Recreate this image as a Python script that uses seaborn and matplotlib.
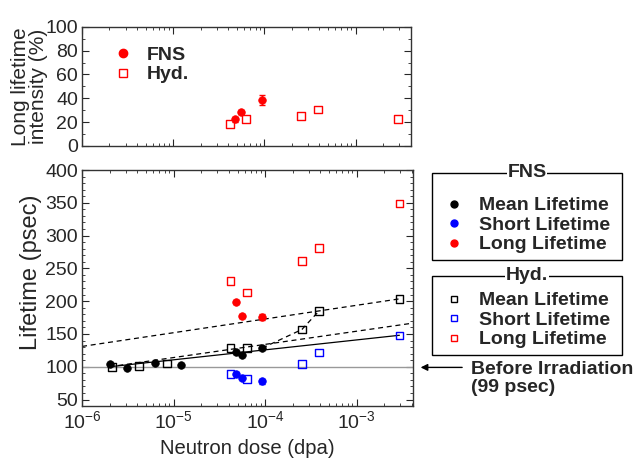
import numpy as np
import pandas as pd
import matplotlib
matplotlib.use("Agg")
import matplotlib.pyplot as plt
import seaborn as sns
from matplotlib import ticker
from matplotlib.lines import Line2D

# ---- data ----
# FNS (filled circles)
fns_dose = [2.0e-6, 3.06e-6, 6.2e-6, 1.22e-5, 4.8e-5, 5.6e-5, 9.3e-5]
fns_mean = [104, 98, 106, 102.6, 121.8, 118, 128.5]
fns_dose_sl = [4.8e-5, 5.6e-5, 9.3e-5]
fns_short = [89.3, 82.8, 78]
fns_long = [199, 177, 175.7]
fns_long_err = [3, 3, 5]
fns_short_err = [2, 2, 4]
fns_int = [22.4, 28.6, 38.7]
fns_int_err = [2, 2, 4]

# Hyd. (open squares)
hyd_dose_mean = [2.14e-6, 4.2e-6, 8.5e-6, 4.2e-5, 6.3e-5, 2.52e-4, 3.86e-4, 2.93e-3]
hyd_mean = [99.5, 101.5, 105, 128.5, 128.5, 156.8, 184.8, 203.5]
hyd_dose_sl = [4.2e-5, 6.3e-5, 2.52e-4, 3.86e-4, 2.93e-3]
hyd_short = [89, 81.7, 104, 121.8, 147.7]
hyd_long = [231, 213, 261.4, 281, 349]
hyd_int = [18.2, 22.4, 25.2, 30.6, 22.4]

# guide lines
solid_x = [2.0e-6, 2.93e-3]
solid_y = [100, 148]
dash_low_x = [2.0e-6, 4.1e-3]
dash_low_y = [100, 166.5]
dash_up_x = [1.0e-6, 2.93e-3]
dash_up_y = [131, 203.5]
dash_mid_x = [9.3e-5, 2.52e-4, 3.86e-4]
dash_mid_y = [128.5, 156.8, 184.8]
before_irr = 99

RED = "#ff0000"
BLUE = "#0000ff"
BLACK = "#000000"
FS = 14

sns.set_theme(style="ticks")
plt.rcParams['font.family'] = ['Liberation Sans', 'DejaVu Sans']
plt.rcParams['mathtext.fontset'] = 'custom'
plt.rcParams['mathtext.rm'] = 'Liberation Sans'
plt.rcParams['mathtext.it'] = 'Liberation Sans'
plt.rcParams['axes.unicode_minus'] = False

fig = plt.figure(figsize=(6.36, 4.62), dpi=100)
ax_top = fig.add_axes([0.129, 0.684, 0.518, 0.258])
ax = fig.add_axes([0.129, 0.121, 0.520, 0.511])

CIRC = 30
SQ = 30


def filled(ax, x, y, color):
    df = pd.DataFrame({"x": x, "y": y})
    sns.scatterplot(ax=ax, data=df, x="x", y="y", color=color, marker="o",
                    s=CIRC, edgecolor=color, linewidth=0.5, zorder=4)


def hollow(ax, x, y, color):
    df = pd.DataFrame({"x": x, "y": y})
    sns.scatterplot(ax=ax, data=df, x="x", y="y", color=color, marker="s",
                    s=SQ, zorder=5)
    pts = ax.collections[-1]
    pts.set_facecolor("none")
    pts.set_edgecolor(color)
    pts.set_linewidth(1.0)


# ---- bottom panel ----
ax.axhline(before_irr, color="#999999", lw=1.0, zorder=1)
ax.plot(solid_x, solid_y, color=BLACK, lw=0.9, zorder=2)
ax.plot(dash_low_x, dash_low_y, color=BLACK, lw=0.9, ls=(0, (4, 3)), zorder=2)
ax.plot(dash_up_x, dash_up_y, color=BLACK, lw=0.9, ls=(0, (4, 3)), zorder=2)
ax.plot(dash_mid_x, dash_mid_y, color=BLACK, lw=0.9, ls=(0, (4, 3)), zorder=2)

ax.errorbar(fns_dose_sl, fns_long, yerr=fns_long_err, fmt="none", ecolor=RED, elinewidth=1, capsize=2, zorder=3)
ax.errorbar(fns_dose_sl, fns_short, yerr=fns_short_err, fmt="none", ecolor=BLUE, elinewidth=1, capsize=2, zorder=3)

filled(ax, fns_dose, fns_mean, BLACK)
filled(ax, fns_dose_sl, fns_short, BLUE)
filled(ax, fns_dose_sl, fns_long, RED)
hollow(ax, hyd_dose_mean, hyd_mean, BLACK)
hollow(ax, hyd_dose_sl, hyd_short, BLUE)
hollow(ax, hyd_dose_sl, hyd_long, RED)

ax.set_xscale("log")
ax.set_xlim(1e-6, 4.1e-3)
ax.set_ylim(40, 400)
ax.yaxis.set_major_locator(ticker.MultipleLocator(50))
ax.yaxis.set_minor_locator(ticker.MultipleLocator(10))
ax.set_xlabel("Neutron dose (dpa)", fontsize=14.6, labelpad=5)
ax.set_ylabel("Lifetime (psec)", fontsize=17)
ax.yaxis.set_label_coords(-0.121, 0.568)

# ---- top panel ----
ax_top.errorbar(fns_dose_sl, fns_int, yerr=fns_int_err, fmt="none", ecolor=RED, elinewidth=1, capsize=2, zorder=3)
filled(ax_top, fns_dose_sl, fns_int, RED)
hollow(ax_top, hyd_dose_sl, hyd_int, RED)
ax_top.set_xscale("log")
ax_top.set_xlim(1e-6, 4.1e-3)
ax_top.set_ylim(0, 100)
ax_top.yaxis.set_major_locator(ticker.MultipleLocator(20))
ax_top.yaxis.set_minor_locator(ticker.MultipleLocator(10))
ax_top.tick_params(axis="x", which="both", labelbottom=False)
ax_top.set_xlabel("")
ax_top.set_ylabel("Long lifetime\nintensity (%)", fontsize=15, linespacing=0.95)
ax_top.yaxis.set_label_coords(-0.104, 0.5)

for a in (ax, ax_top):
    a.tick_params(which="both", direction="in", top=True, right=True, labelsize=FS, pad=3)
    a.tick_params(which="major", length=5, width=0.8)
    a.tick_params(which="minor", length=2.5, width=0.6)
    a.xaxis.set_minor_locator(ticker.LogLocator(base=10, subs=np.arange(2, 10), numticks=20))
    for s in a.spines.values():
        s.set_linewidth(1.0)
        s.set_color("#333333")

ax.xaxis.set_major_locator(ticker.LogLocator(base=10, numticks=10))
ax.xaxis.set_minor_formatter(ticker.NullFormatter())
ax.xaxis.set_major_formatter(ticker.FuncFormatter(
    lambda v, p: r"$\mathregular{10^{%d}}$" % int(round(np.log10(v)))))

# top legend
h_fns = Line2D([], [], ls="none", marker="o", markersize=6, color=RED)
h_hyd = Line2D([], [], ls="none", marker="s", markersize=5.5, markerfacecolor="none",
               markeredgecolor=RED, markeredgewidth=1)
ax_top.legend([h_fns, h_hyd], ["FNS", "Hyd."], loc="upper left", bbox_to_anchor=(0.058, 0.905),
              frameon=False, prop={"weight": "bold", "size": FS}, handletextpad=0.55,
              labelspacing=0.12, borderaxespad=0, handlelength=1.4)

# right legends (boxed, title on the frame)
lab = ["Mean Lifetime", "Short Lifetime", "Long Lifetime"]
cols = [BLACK, BLUE, RED]
fns_h = [Line2D([], [], ls="none", marker="o", markersize=5, color=c) for c in cols]
hyd_h = [Line2D([], [], ls="none", marker="s", markersize=5, markerfacecolor="none",
                markeredgecolor=c, markeredgewidth=1) for c in cols]


def boxed_legend(handles, title, x0, y0, w, gap):
    leg = fig.legend(handles, lab, loc="upper left", bbox_to_anchor=(x0, y0, w, 0),
                     mode="expand", title=" ", title_fontsize=gap,
                     prop={"weight": "bold", "size": FS}, fancybox=False,
                     edgecolor=BLACK, framealpha=1, handletextpad=0.45,
                     labelspacing=0.1, borderpad=0.36, handlelength=1.6,
                     borderaxespad=0)
    leg.get_frame().set_linewidth(1.0)
    fig.text(x0 + w / 2, y0, title, ha="center", va="center", fontsize=FS,
             fontweight="bold", zorder=10,
             bbox=dict(facecolor="white", edgecolor="none", pad=0.5))
    return leg


boxed_legend(fns_h, "FNS", 0.679, 0.626, 0.299, 12)
boxed_legend(hyd_h, "Hyd.", 0.679, 0.403, 0.299, 5)

# before irradiation arrow
ax.annotate("", xy=(0.657, before_irr), xycoords=("figure fraction", "data"),
            xytext=(0.731, before_irr), textcoords=("figure fraction", "data"),
            arrowprops=dict(arrowstyle="-|>", color=BLACK, lw=1.0, mutation_scale=10),
            annotation_clip=False)
fig.text(0.740, 0.180, "Before Irradiation\n(99 psec)", ha="left", va="center",
         fontsize=FS, fontweight="bold", linespacing=1.1)

fig.savefig("out.png", dpi=100)
